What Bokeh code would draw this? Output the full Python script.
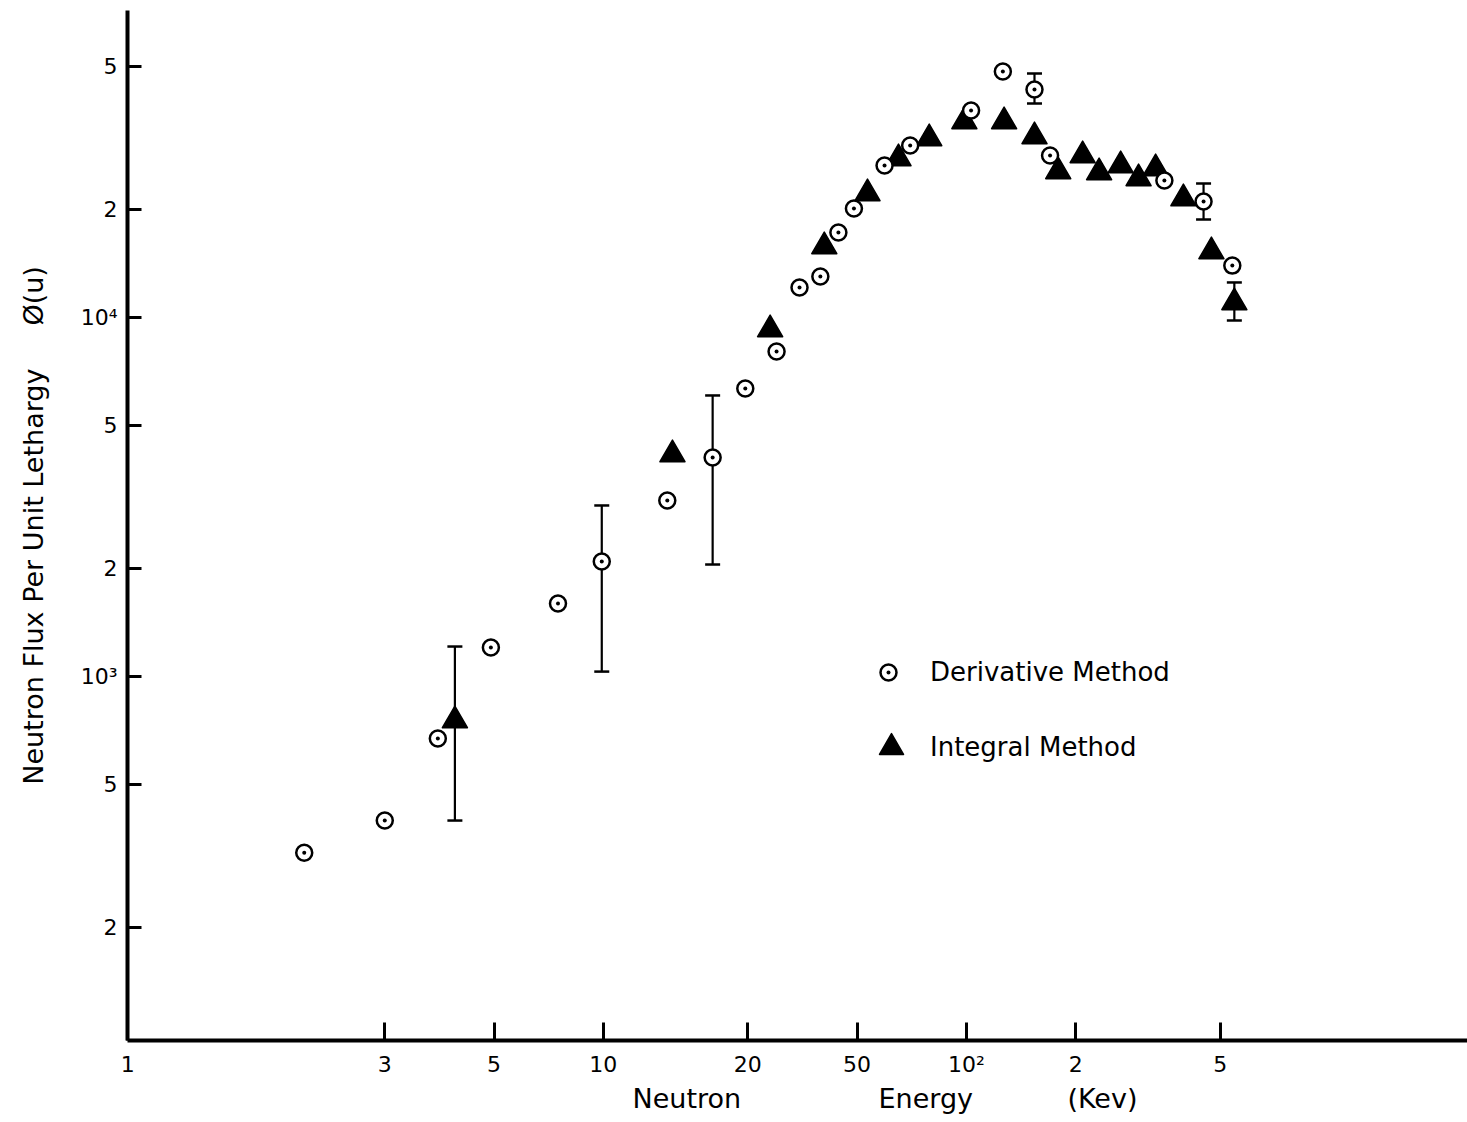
import numpy as np
from bokeh.plotting import figure
from bokeh.models import (ColumnDataSource, Whisker, TeeHead, FixedTicker, Legend,
                          LegendItem, Title, Range1d)
from bokeh.embed import file_html
from bokeh.resources import INLINE

# ---- data (neutron energy in keV, flux per unit lethargy) ----
deriv_energy = [1.5, 2.5, 3.5, 4.9, 7.5, 9.9, 15, 20, 24.6, 30, 34.7, 39.6, 44.4, 49,
                59.5, 70, 103, 126, 154, 170, 351, 450, 540]
deriv_flux = [323, 397, 672, 1204, 1597, 2091, 3093, 4074, 6342, 8040, 12120, 13010,
              17250, 20120, 26510, 30150, 37720, 48450, 43170, 28270, 24070, 21040, 13950]

deriv_err_energy = [9.9, 20, 154, 450]
deriv_err_low = [1032, 2051, 39460, 18750]
deriv_err_high = [2995, 6065, 47820, 23620]

integ_energy = [3.9, 15.5, 28.8, 40.6, 53.4, 65, 79, 98.7, 127, 154, 179, 209, 232,
                266, 298, 332, 396, 473, 547]
integ_flux = [754, 4153, 9260, 15770, 22150, 27730, 31520, 35160, 35160, 31930, 25510,
              28270, 25350, 26510, 24390, 26000, 21450, 15270, 11010]

integ_err_energy = [3.9, 547]
integ_err_low = [397, 9810]
integ_err_high = [1212, 12520]

x_tick_values = [0.49, 2.5, 5, 10, 25, 50, 100, 200, 500]
x_tick_labels = ["1", "3", "5", "10", "20", "50", "10\u00b2", "2", "5"]
y_tick_values = [200, 500, 1000, 2000, 5000, 10000, 20000, 50000]
y_tick_labels = ["2", "5", "10\u00b3", "2", "5", "10\u2074", "2", "5"]

NB = "\u00a0"
x_title = "Neutron" + " " + NB * 15 + "Energy" + " " + NB * 10 + "(Kev)"
y_title = "Neutron Flux Per Unit Lethargy" + " " + NB * 4 + "\u00d8(u)"

FONT = "DejaVu Sans"

p = figure(width=1467, height=1122, x_axis_type="log", y_axis_type="log",
           x_range=Range1d(0.489, 2400), y_range=Range1d(96.85, 71640),
           output_backend="svg", toolbar_location=None,
           min_border_left=127, min_border_right=0, min_border_top=10,
           min_border_bottom=82)
p.outline_line_color = None
p.grid.visible = False
p.background_fill_color = "white"
p.border_fill_color = "white"

for ax, tv, tl, tin in ((p.xaxis, x_tick_values, x_tick_labels, 18),
                        (p.yaxis, y_tick_values, y_tick_labels, 14)):
    ax.ticker = FixedTicker(ticks=tv, minor_ticks=[])
    ax.major_label_overrides = dict(zip(tv, tl))
    ax.axis_line_width = 4
    ax.axis_line_color = "black"
    ax.major_tick_line_width = 3
    ax.major_tick_line_color = "black"
    ax.major_tick_in = tin
    ax.major_tick_out = 0
    ax.minor_tick_line_color = None
    ax.major_label_text_font = FONT
    ax.major_label_text_font_size = "22px"
    ax.major_label_text_color = "black"
p.xaxis.major_label_standoff = 11
p.yaxis.major_label_standoff = 10

p.yaxis.axis_label = y_title
p.yaxis.axis_label_standoff = 29
p.yaxis.axis_label_text_font = FONT
p.yaxis.axis_label_text_font_size = "27px"
p.yaxis.axis_label_text_font_style = "normal"
p.yaxis.axis_label_text_color = "black"

p.add_layout(Title(text=x_title, align="left", offset=632 - 127, standoff=2,
                   text_font=FONT, text_font_size="27px", text_font_style="normal",
                   text_color="black"), "below")

# error bars
dsrc = ColumnDataSource(dict(x=deriv_err_energy, lo=deriv_err_low, hi=deriv_err_high))
isrc = ColumnDataSource(dict(x=integ_err_energy, lo=integ_err_low, hi=integ_err_high))
for src in (dsrc, isrc):
    w = Whisker(source=src, base="x", lower="lo", upper="hi", dimension="height",
                line_width=2.2, line_color="black", level="underlay",
                upper_head=TeeHead(size=15, line_width=2.5, line_color="black"),
                lower_head=TeeHead(size=15, line_width=2.5, line_color="black"))
    p.add_layout(w)

r_int = p.scatter(integ_energy, integ_flux, marker="triangle", size=25,
                  fill_color="black", line_color="black", line_width=1.5,
                  line_join="round")
r_der = p.scatter(deriv_energy, deriv_flux, marker="circle_dot", size=16,
                  fill_color="white", line_color="black", line_width=2.5)

leg1 = Legend(items=[LegendItem(label="Derivative Method", renderers=[r_der])],
              location=(741, 348), glyph_width=40, glyph_height=40, label_height=40,
              label_standoff=22, padding=0, margin=0, border_line_color=None,
              background_fill_alpha=0, label_text_font=FONT,
              label_text_font_size="26px", label_text_color="black")
leg2 = Legend(items=[LegendItem(label="Integral Method", renderers=[r_int])],
              location=(734, 263), glyph_width=60, glyph_height=60, label_height=60,
              label_standoff=9, padding=0, margin=0, border_line_color=None,
              background_fill_alpha=0, label_text_font=FONT,
              label_text_font_size="26px", label_text_color="black")
p.add_layout(leg1)
p.add_layout(leg2)

open("out.html", "w").write(file_html(p, INLINE))
